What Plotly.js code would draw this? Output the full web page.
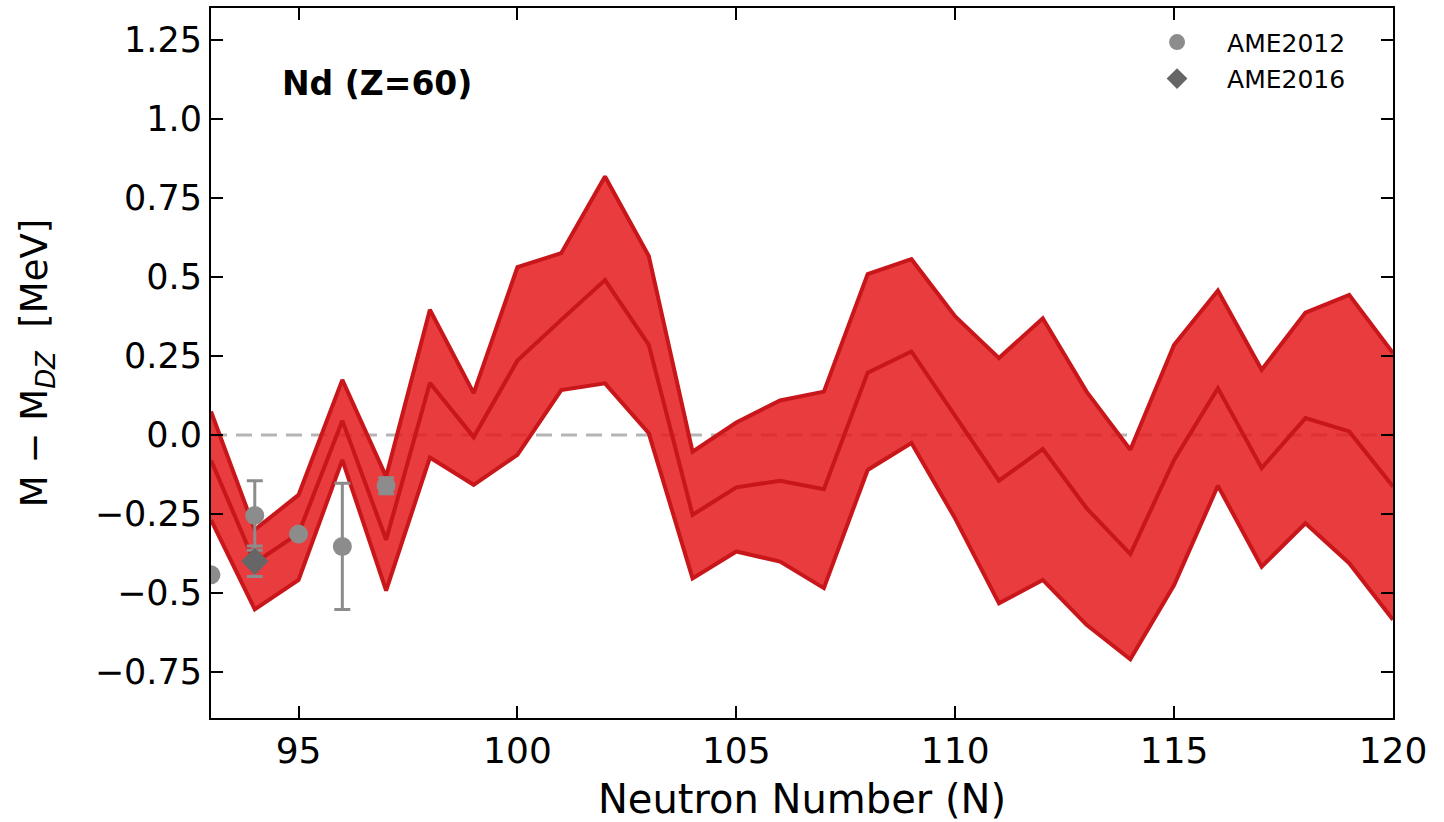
<!DOCTYPE html>
<html>
<head>
<meta charset="utf-8">
<script src="https://cdn.plot.ly/plotly-3.0.1.min.js"></script>
<style>
  html, body { margin: 0; padding: 0; background: #fff; }
  #chart { width: 1444px; height: 822px; }
</style>
</head>
<body>
<div id="chart"></div>
<script>
// ---- data ----
const neutronNumbers = [93, 94, 95, 96, 97, 98, 99, 100, 101, 102, 103, 104, 105, 106,
                        107, 108, 109, 110, 111, 112, 113, 114, 115, 116, 117, 118, 119, 120];
const upperBand = [0.074, -0.30, -0.19, 0.174, -0.132, 0.396, 0.132, 0.531, 0.575, 0.818,
                   0.566, -0.053, 0.039, 0.109, 0.137, 0.509, 0.556, 0.375, 0.243, 0.369,
                   0.137, -0.047, 0.285, 0.457, 0.206, 0.387, 0.443, 0.259];
const middleLine = [-0.080, -0.405, -0.312, 0.045, -0.332, 0.164, -0.007, 0.235, 0.364, 0.490,
                    0.285, -0.253, -0.166, -0.145, -0.172, 0.197, 0.264, 0.060, -0.145, -0.045,
                    -0.232, -0.377, -0.079, 0.148, -0.105, 0.053, 0.011, -0.163];
const lowerBand = [-0.269, -0.552, -0.459, -0.079, -0.493, -0.072, -0.158, -0.063, 0.142, 0.163,
                   0.005, -0.454, -0.369, -0.401, -0.485, -0.111, -0.026, -0.265, -0.533, -0.459,
                   -0.601, -0.710, -0.475, -0.161, -0.417, -0.280, -0.406, -0.585];

const ame2012N   = [93, 94, 95, 96, 97];
const ame2012Val = [-0.443, -0.255, -0.314, -0.353, -0.161];
const ame2012Err = [0.01, 0.11, 0.01, 0.20, 0.025];

const ame2016N   = [94];
const ame2016Val = [-0.400];
const ame2016Err = [0.048];

const yTickVals = [1.25, 1.0, 0.75, 0.5, 0.25, 0.0, -0.25, -0.5, -0.75];
const yTickText = ['1.25', '1.0', '0.75', '0.5', '0.25', '0.0', '\u22120.25', '\u22120.5', '\u22120.75'];
const xTickVals = [95, 100, 105, 110, 115, 120];

// ---- styles ----
const lineRed = '#c8161a';
const fillRed = 'rgba(228,26,28,0.85)';
const font = 'DejaVu Sans, sans-serif';

const traces = [
  { x: neutronNumbers, y: lowerBand, type: 'scatter', mode: 'lines',
    line: { color: lineRed, width: 4 }, showlegend: false, hoverinfo: 'skip' },
  { x: neutronNumbers, y: upperBand, type: 'scatter', mode: 'lines', fill: 'tonexty',
    fillcolor: fillRed, line: { color: lineRed, width: 4 }, showlegend: false, hoverinfo: 'skip' },
  { x: neutronNumbers, y: middleLine, type: 'scatter', mode: 'lines',
    line: { color: lineRed, width: 4 }, showlegend: false, hoverinfo: 'skip' },
  { x: ame2012N, y: ame2012Val, type: 'scatter', mode: 'markers', name: 'AME2012',
    legendgroup: 'a',
    marker: { symbol: 'circle', size: 19, color: '#8c8c8c' },
    error_y: { type: 'data', array: ame2012Err, visible: true, color: '#8c8c8c', thickness: 3, width: 8 } },
  { x: ame2016N, y: ame2016Val, type: 'scatter', mode: 'markers', name: 'AME2016',
    legendgroup: 'b',
    marker: { symbol: 'diamond', size: 21, color: '#666666' },
    error_y: { type: 'data', array: ame2016Err, visible: true, color: '#8c8c8c', thickness: 3, width: 8 } }
];

const layout = {
  width: 1444, height: 822,
  margin: { l: 211, r: 51, t: 8, b: 104 },
  paper_bgcolor: '#ffffff', plot_bgcolor: '#ffffff',
  font: { family: font, color: '#000' },
  showlegend: true,
  legend: {
    x: 0.775, y: 0.984, xanchor: 'left', yanchor: 'top',
    bgcolor: 'rgba(0,0,0,0)', borderwidth: 0,
    font: { family: font, size: 25, color: '#000' },
    traceorder: 'grouped', tracegroupgap: 1, itemwidth: 90
  },
  xaxis: {
    range: [93, 120], tickvals: xTickVals,
    showgrid: false, zeroline: false,
    showline: true, linecolor: '#000', linewidth: 2, mirror: 'ticks',
    ticks: 'inside', ticklen: 12, tickwidth: 2, tickcolor: '#000',
    tickfont: { family: font, size: 36, color: '#000' },
    title: { text: 'Neutron Number (N)', font: { family: font, size: 40, color: '#000' }, standoff: 20 }
  },
  yaxis: {
    range: [-0.896, 1.351], tickvals: yTickVals, ticktext: yTickText,
    showgrid: false, zeroline: false,
    showline: true, linecolor: '#000', linewidth: 2, mirror: 'ticks',
    ticks: 'inside', ticklen: 12, tickwidth: 2, tickcolor: '#000',
    tickfont: { family: font, size: 35, color: '#000' },
    title: { text: 'M \u2212 M<sub><i>DZ</i></sub>&nbsp;&nbsp;[MeV]', font: { family: font, size: 37, color: '#000' }, standoff: 36 }
  },
  shapes: [
    { type: 'line', xref: 'paper', yref: 'y', x0: 0, x1: 1, y0: 0, y1: 0, layer: 'below',
      line: { color: '#b5b5b5', width: 3, dash: '16px,9px' } }
  ],
  annotations: [
    { text: '<b>Nd (Z=60)</b>', xref: 'paper', yref: 'paper', x: 0.0584, y: 0.893,
      xanchor: 'left', yanchor: 'middle', showarrow: false,
      font: { family: font, size: 33, color: '#000' } }
  ]
};

Plotly.newPlot('chart', traces, layout, { displayModeBar: false, staticPlot: true });
</script>
</body>
</html>
